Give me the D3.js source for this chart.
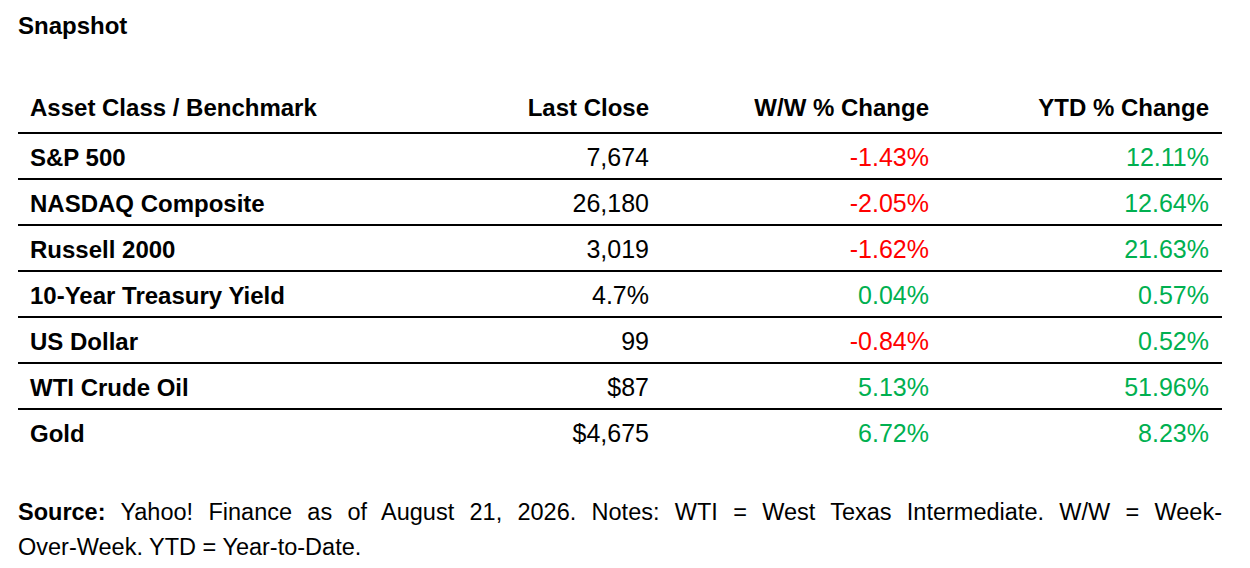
<!DOCTYPE html>
<html>
<head>
<meta charset="utf-8">
<script src="https://cdn.jsdelivr.net/npm/d3@7"></script>
<style>
    body { margin: 0; background: #fff; }
    text { font-family: "Liberation Sans", Arial, sans-serif; fill: #000; }
</style>
</head>
<body>
<div id="snapshot"></div>
<script>
// table data
const assets = ["S&P 500", "NASDAQ Composite", "Russell 2000", "10-Year Treasury Yield", "US Dollar", "WTI Crude Oil", "Gold"];
const lastClose = ["7,674", "26,180", "3,019", "4.7%", "99", "$87", "$4,675"];
const wwChange = [-1.43, -2.05, -1.62, 0.04, -0.84, 5.13, 6.72];
const ytdChange = [12.11, 12.64, 21.63, 0.57, 0.52, 51.96, 8.23];
const headers = ["Asset Class / Benchmark", "Last Close", "W/W % Change", "YTD % Change"];
const title = "Snapshot";
const sourceLines = [
    ["Source:", " Yahoo! Finance as of August 21, 2026. Notes: WTI = West Texas Intermediate. W/W = Week-"],
    ["", "Over-Week. YTD = Year-to-Date."]
];

const width = 1250, height = 568;
const tableLeft = 18, tableRight = 1222;
const labelX = 30;
const rowTop = 133, rowStep = 46;

const svg = d3.select("#snapshot")
    .append("svg")
    .attr("width", width)
    .attr("height", height);

svg.append("rect").attr("width", width).attr("height", height).attr("fill", "#fff");

// rows and columns
const yScale = d3.scaleBand()
    .domain(assets)
    .range([rowTop, rowTop + rowStep * assets.length])
    .paddingInner(0);

const xScale = d3.scalePoint()
    .domain(["close", "ww", "ytd"])
    .range([649, 1209]);

// plain hyphen for negatives, like the source sheet
const pct = d3.formatLocale({decimal: ".", thousands: ",", grouping: [3], currency: ["$", ""], minus: "-"}).format(".2f");
const signColor = v => v < 0 ? "#ff0000" : "#00b050";

// title
svg.append("text")
    .attr("x", tableLeft)
    .attr("y", 34)
    .style("font-size", "24px")
    .style("font-weight", "bold")
    .text(title);

// header
const head = svg.append("g").attr("class", "header");
head.append("text")
    .attr("x", labelX)
    .attr("y", 116)
    .style("font-size", "24px")
    .style("font-weight", "bold")
    .text(headers[0]);
head.selectAll("text.col")
    .data(xScale.domain())
    .enter()
    .append("text")
    .attr("class", "col")
    .attr("x", d => xScale(d))
    .attr("y", 116)
    .style("font-size", "24px")
    .style("font-weight", "bold")
    .style("text-anchor", "end")
    .text((d, i) => headers[i + 1]);

// rule lines: one above every row
svg.selectAll("line.rule")
    .data(assets)
    .enter()
    .append("line")
    .attr("class", "rule")
    .attr("x1", tableLeft)
    .attr("x2", tableRight)
    .attr("y1", d => yScale(d))
    .attr("y2", d => yScale(d))
    .attr("stroke", "#000")
    .attr("stroke-width", 2);

// body rows
const rows = svg.selectAll("g.row")
    .data(assets)
    .enter()
    .append("g")
    .attr("class", "row")
    .attr("transform", d => "translate(0," + (yScale(d) + 33) + ")");

rows.append("text")
    .attr("x", labelX)
    .style("font-size", "24px")
    .style("font-weight", "bold")
    .text(d => d);

rows.append("text")
    .attr("x", xScale("close"))
    .style("font-size", "25px")
    .style("text-anchor", "end")
    .text((d, i) => lastClose[i]);

rows.append("text")
    .attr("x", xScale("ww"))
    .style("font-size", "25px")
    .style("text-anchor", "end")
    .style("fill", (d, i) => signColor(wwChange[i]))
    .text((d, i) => pct(wwChange[i]) + "%");

rows.append("text")
    .attr("x", xScale("ytd"))
    .style("font-size", "25px")
    .style("text-anchor", "end")
    .style("fill", (d, i) => signColor(ytdChange[i]))
    .text((d, i) => pct(ytdChange[i]) + "%");

// source note, first line justified to the table width
sourceLines.forEach((parts, i) => {
    const t = svg.append("text")
        .attr("x", tableLeft)
        .attr("y", 520 + i * 35)
        .style("font-size", "23.5px");
    if (parts[0]) {
        t.append("tspan").style("font-weight", "bold").text(parts[0]);
    }
    t.append("tspan").text(parts[1]);

    if (i === 0) {
        const natural = t.node().getComputedTextLength();
        const spaces = (parts[0] + parts[1]).split(" ").length - 1;
        const extra = (tableRight - tableLeft - natural) / spaces;
        t.style("word-spacing", extra + "px");
    }
});
</script>
</body>
</html>
